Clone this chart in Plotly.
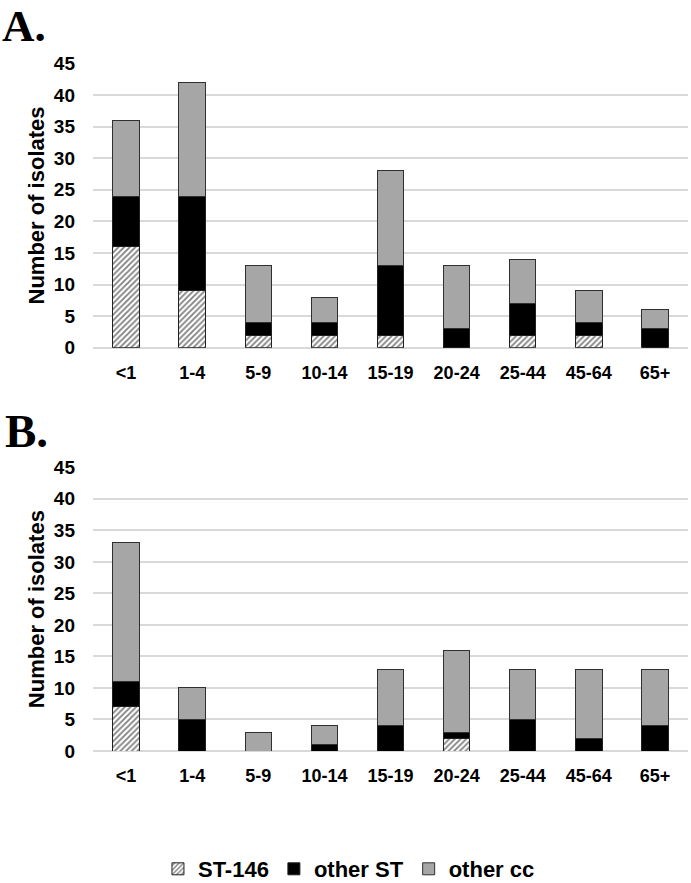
import plotly.graph_objects as go

categories = ["<1", "1-4", "5-9", "10-14", "15-19", "20-24", "25-44", "45-64", "65+"]

a_st146 = [16, 9, 2, 2, 2, 0, 2, 2, 0]
a_other_st = [8, 15, 2, 2, 11, 3, 5, 2, 3]
a_other_cc = [12, 18, 9, 4, 15, 10, 7, 5, 3]

b_st146 = [7, 0, 0, 0, 0, 2, 0, 0, 0]
b_other_st = [4, 5, 0, 1, 4, 1, 5, 2, 4]
b_other_cc = [22, 5, 3, 3, 9, 13, 8, 11, 9]

series_names = ["ST-146", "other ST", "other cc"]
y_ticks = [0, 5, 10, 15, 20, 25, 30, 35, 40, 45]

FONT = "Liberation Sans, Arial, sans-serif"
SERIF = "Liberation Serif, Times New Roman, serif"
GRAY = "#A6A6A6"

W, HT, MB = 691, 883, 50
PH = HT - MB  # paper height in px (top margin 0)


def py(px):
    """pixel row from top of page -> paper y fraction"""
    return (PH - px) / PH


fig = go.Figure()


def add_panel(vals, xa, ya, show):
    st146, ost, occ = vals
    fig.add_trace(go.Bar(
        x=categories, y=st146, name=series_names[0], legendgroup="s1", showlegend=show,
        xaxis=xa, yaxis=ya,
        marker=dict(color="white", line=dict(color="#202020", width=1),
                    pattern=dict(shape="/", fgcolor="black", bgcolor="white", size=4, solidity=0.45)),
    ))
    fig.add_trace(go.Bar(
        x=categories, y=ost, name=series_names[1], legendgroup="s2", showlegend=show,
        xaxis=xa, yaxis=ya,
        marker=dict(color="black", line=dict(color="#202020", width=1)),
    ))
    fig.add_trace(go.Bar(
        x=categories, y=occ, name=series_names[2], legendgroup="s3", showlegend=show,
        xaxis=xa, yaxis=ya,
        marker=dict(color=GRAY, line=dict(color="#303030", width=1)),
    ))


add_panel((a_st146, a_other_st, a_other_cc), "x", "y", True)
add_panel((b_st146, b_other_st, b_other_cc), "x2", "y2", False)

xcommon = dict(
    showgrid=False, showline=False, ticks="", range=[-0.5, 8.5], automargin=False,
    tickfont=dict(family=FONT, size=18, color="black", weight="bold"),
    ticklabelstandoff=12,
    domain=[0.1346, 0.9957],
)
ycommon = dict(
    range=[0, 45], tickvals=y_ticks, showgrid=True, gridcolor="#D9D9D9", gridwidth=1.5,
    zeroline=True, zerolinecolor="#D9D9D9", zerolinewidth=1.5, showline=False, ticks="",
    automargin=False, ticklabelstandoff=17,
    tickfont=dict(family=FONT, size=19, color="black", weight="bold"),
    title=dict(text="Number of isolates", standoff=3,
               font=dict(family=FONT, size=22, color="black", weight="bold")),
)

fig.update_layout(
    width=W, height=HT,
    margin=dict(l=0, r=0, t=0, b=MB, pad=0, autoexpand=False),
    paper_bgcolor="white", plot_bgcolor="white",
    barmode="stack", bargap=0.6,
    xaxis=dict(**xcommon, anchor="y"),
    yaxis=dict(**ycommon, domain=[py(347.7), py(63.3)], anchor="x"),
    xaxis2=dict(**xcommon, anchor="y2"),
    yaxis2=dict(**ycommon, domain=[py(751), py(467.3)], anchor="x2"),
    legend=dict(orientation="h", x=0.505, xanchor="center", y=py(890), yanchor="bottom",
                traceorder="normal",
                font=dict(family=FONT, size=22, color="black", weight="bold"),
                itemwidth=30, bgcolor="rgba(0,0,0,0)"),
    showlegend=True,
    annotations=[
        dict(text="A.", x=0.0, y=py(26.5), xref="paper", yref="paper", xanchor="left", yanchor="middle",
             showarrow=False, font=dict(family=SERIF, size=45, color="black", weight="bold")),
        dict(text="B.", x=0.004, y=py(431), xref="paper", yref="paper", xanchor="left", yanchor="middle",
             showarrow=False, font=dict(family=SERIF, size=47, color="black", weight="bold")),
    ],
)

fig.write_html("out.html", config={"displayModeBar": False},
               post_script="document.body.style.margin='0';document.body.style.overflow='hidden';")
